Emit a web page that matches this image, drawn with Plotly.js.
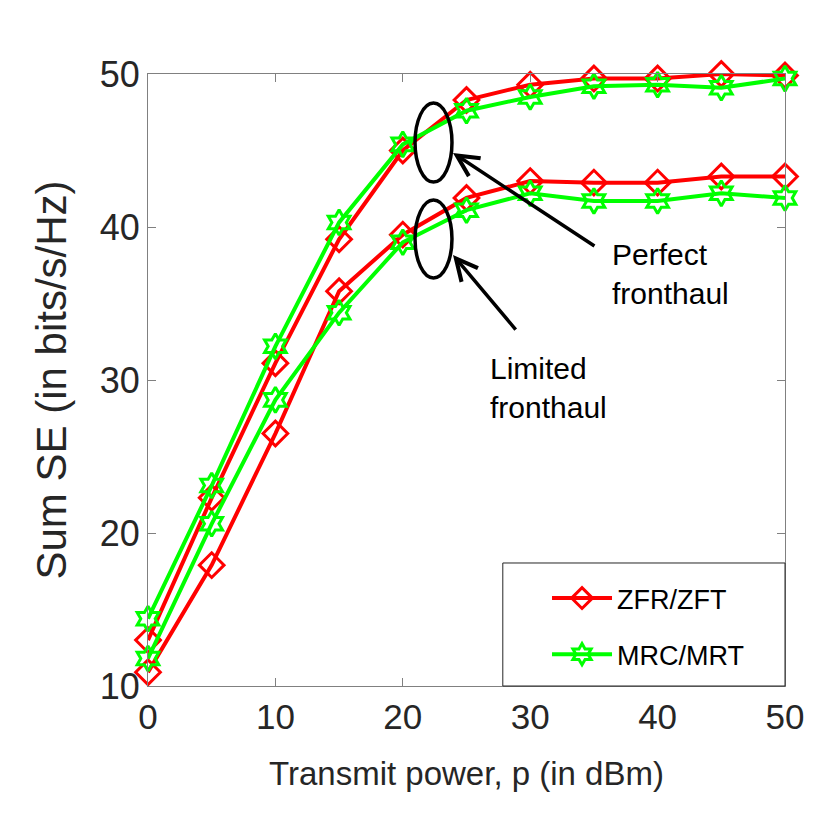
<!DOCTYPE html>
<html><head><meta charset="utf-8">
<script src="https://cdn.plot.ly/plotly-3.0.1.min.js"></script>
<style>html,body{margin:0;padding:0;background:#fff}#chart{width:830px;height:830px}</style>
</head><body><div id="chart"></div>
<script>
const powerDbm = [0, 5, 10, 15, 20, 25, 30, 35, 40, 45, 50];
const zfrPerfect = [13.0, 22.3, 31.1, 39.2, 45.0, 48.3, 49.3, 49.7, 49.7, 50.0, 49.9];
const mrcPerfect = [14.4, 23.1, 32.2, 40.3, 45.4, 47.6, 48.5, 49.2, 49.3, 49.1, 49.7];
const zfrLimited = [10.9, 17.9, 26.5, 35.8, 39.5, 41.9, 43.0, 42.9, 42.9, 43.3, 43.3];
const mrcLimited = [11.8, 20.6, 28.7, 34.4, 39.0, 41.1, 42.2, 41.7, 41.7, 42.2, 41.9];
const seriesNames = ['ZFR/ZFT', 'MRC/MRT'];
const xTicks = [0, 10, 20, 30, 40, 50];
const yTicks = [10, 20, 30, 40, 50];

const sans = 'Liberation Sans, Arial, sans-serif';
const RED = '#ff0000', GREEN = '#00ff00';

function tr(y, name, color, symbol, show, group) {
  return {
    x: powerDbm, y: y, name: name, type: 'scatter', mode: 'lines+markers',
    showlegend: show, legendgroup: group, cliponaxis: false,
    line: {color: color, width: 4},
    marker: {symbol: symbol, size: symbol.startsWith('diamond') ? 19 : 19,
             color: color, line: {color: color, width: 3}}
  };
}
const data = [
  tr(zfrPerfect, seriesNames[0], RED, 'diamond-open', true, 'a'),
  tr(mrcPerfect, seriesNames[1], GREEN, 'hexagram-open', true, 'b'),
  tr(zfrLimited, seriesNames[0], RED, 'diamond-open', false, 'a'),
  tr(mrcLimited, seriesNames[1], GREEN, 'hexagram-open', false, 'b')
];

const axisCommon = {
  showgrid: false, zeroline: false, showline: true, linecolor: '#808080', linewidth: 1,
  mirror: 'ticks', ticks: 'inside', ticklen: 8, tickcolor: '#808080', tickwidth: 1
};

const layout = {
  width: 830, height: 830,
  margin: {l: 148, r: 45, t: 74, b: 144},
  paper_bgcolor: '#fff', plot_bgcolor: '#fff',
  showlegend: true,
  xaxis: Object.assign({}, axisCommon, {
    range: [0, 50], tickvals: xTicks, ticktext: xTicks.map(String),
    tickfont: {family: sans, size: 35, color: '#262626'},
    title: {text: 'Transmit power, p (in dBm)', font: {family: sans, size: 33, color: '#262626'}, standoff: 26}
  }),
  yaxis: Object.assign({}, axisCommon, {
    range: [10, 50], tickvals: yTicks, ticktext: yTicks.map(String),
    tickfont: {family: sans, size: 36, color: '#262626'},
    title: {text: 'Sum SE (in bits/s/Hz)', font: {family: sans, size: 42, color: '#262626'}, standoff: 20}
  }),
  legend: {
    x: 0.6264, xanchor: 'left', y: 0.0114, yanchor: 'bottom',
    bgcolor: 'rgba(0,0,0,0)', borderwidth: 0,
    font: {family: sans, size: 27, color: '#000'},
    itemwidth: 60, traceorder: 'grouped', tracegroupgap: 18
  },
  shapes: [
    {type: 'rect', xref: 'paper', yref: 'paper', x0: 0.557, x1: 1, y0: 0, y1: 0.201,
     fillcolor: '#fff', line: {color: '#262626', width: 1}, layer: 'above'},
    {type: 'circle', xref: 'x', yref: 'y', x0: 20.96, x1: 23.86, y0: 42.94, y1: 48.1,
     line: {color: '#000', width: 3.5}},
    {type: 'circle', xref: 'x', yref: 'y', x0: 20.96, x1: 23.86, y0: 36.67, y1: 41.76,
     line: {color: '#000', width: 3.5}}
  ],
  annotations: [
    {x: 23.94, y: 44.84, ax: 35.16, ay: 38.69, xref: 'x', yref: 'y', axref: 'x', ayref: 'y',
     text: '', showarrow: true, arrowhead: 5, arrowsize: 1.2, arrowwidth: 3.5, arrowcolor: '#000'},
    {x: 23.94, y: 38.17, ax: 28.96, ay: 33.2, xref: 'x', yref: 'y', axref: 'x', ayref: 'y',
     text: '', showarrow: true, arrowhead: 5, arrowsize: 1.2, arrowwidth: 3.5, arrowcolor: '#000'},
    {x: 36.26, y: 36.9, xref: 'x', yref: 'y', xanchor: 'left', yanchor: 'middle', align: 'left',
     text: 'Perfect<br>fronthaul', showarrow: false, font: {family: sans, size: 30, color: '#000'}},
    {x: 26.7, y: 29.5, xref: 'x', yref: 'y', xanchor: 'left', yanchor: 'middle', align: 'left',
     text: 'Limited<br>fronthaul', showarrow: false, font: {family: sans, size: 30, color: '#000'}}
  ]
};
Plotly.newPlot('chart', data, layout, {displayModeBar: false, staticPlot: true});
</script></body></html>
